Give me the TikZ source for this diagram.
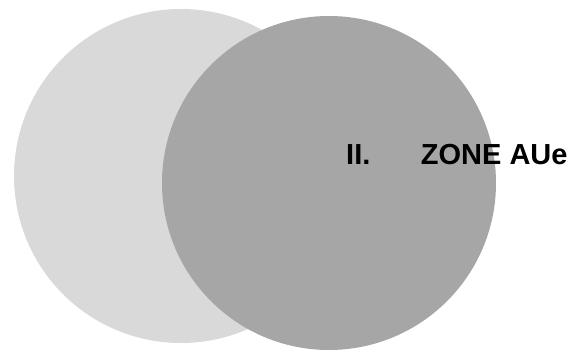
\documentclass[tikz,border=0pt]{standalone}
\usepackage{fontspec}
\setmainfont{Liberation Sans}
\definecolor{lightdisc}{HTML}{D9D9D9}
\definecolor{darkdisc}{HTML}{A6A6A6}
\begin{document}
\begin{tikzpicture}[x=1pt,y=1pt,
  disc/.style={circle,inner sep=0pt,minimum size=334pt,draw=none},
  title/.style={inner sep=0pt,anchor=base west,font=\fontsize{29}{35}\selectfont\bfseries}]
\useasboundingbox (0,0) rectangle (584,351);
\node[disc,fill=lightdisc] (light) at (181,175) {};
\node[disc,fill=darkdisc] (dark) at (329,168) {};
\node[title] (label) at (346,186) {II.\hspace{50.5pt}ZONE AUe};
\end{tikzpicture}
\end{document}
